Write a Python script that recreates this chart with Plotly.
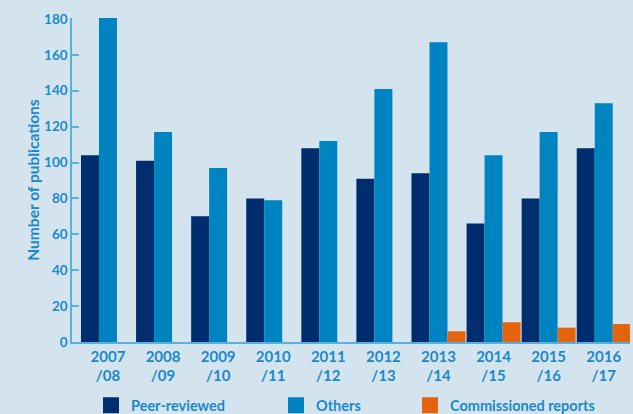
import plotly.graph_objects as go

years = ["2007<br>/08", "2008<br>/09", "2009<br>/10", "2010<br>/11", "2011<br>/12",
         "2012<br>/13", "2013<br>/14", "2014<br>/15", "2015<br>/16", "2016<br>/17"]
peer_reviewed = [104, 101, 70, 80, 108, 91, 94, 66, 80, 108]
others = [181, 117, 97, 79, 112, 141, 167, 104, 117, 133]
commissioned = [None, None, None, None, None, None, 6, 11, 8, 10]

names = ["Peer-reviewed", "Others", "Commissioned reports"]
colors = ["#002d6e", "#0083c1", "#e2640f"]
series = [peer_reviewed, others, commissioned]

BG = "#d4e4ef"
TXT = "#1b89c8"
AX = "#5aafdc"
FONT = "Lato"

fig = go.Figure()
for n, c, s in zip(names, colors, series):
    fig.add_trace(go.Bar(x=years, y=s, name=n, marker=dict(color=c, line=dict(width=0)),
                         showlegend=False))

legend_names = ["legend", "legend2", "legend3"]
lx = [(91 - 72) / 558, (276 - 72) / 558, (410 - 72) / 558]
for n, c, ln in zip(names, colors, legend_names):
    fig.add_trace(go.Scatter(x=[None], y=[None], mode="markers", name=n,
                             marker=dict(symbol="square", size=17, color=c),
                             legend=ln, showlegend=True))

leg_common = dict(orientation="h", yanchor="top", y=-0.146, xanchor="left",
                  bgcolor="rgba(0,0,0,0)", borderwidth=0,
                  font=dict(family=FONT, size=14.5, color=TXT, weight="bold"))
fig.update_layout(
    width=633, height=414,
    margin=dict(l=72, r=3, t=18, b=72, pad=0, autoexpand=False),
    paper_bgcolor=BG, plot_bgcolor=BG,
    barmode="group", bargap=0.02, bargroupgap=0,
    font=dict(family=FONT, color=TXT),
    legend=dict(x=lx[0], **leg_common),
    legend2=dict(x=lx[1], **leg_common),
    legend3=dict(x=lx[2], **leg_common),
)
fig.update_xaxes(
    range=[-0.653, 9.477], showgrid=False, zeroline=False, automargin=False,
    showline=True, linecolor=AX, linewidth=1.5, ticks="",
    tickfont=dict(family=FONT, size=15, color=TXT, weight="bold"),
)
fig.update_yaxes(
    range=[0, 180.5], tickvals=[0, 20, 40, 60, 80, 100, 120, 140, 160, 180],
    showgrid=False, zeroline=False, showline=True, linecolor=AX, linewidth=1.5,
    ticks="inside", ticklen=7, tickcolor=AX, tickwidth=1.5, automargin=False,
    tickfont=dict(family=FONT, size=13.5, color=TXT, weight="bold"),
    title=dict(text="Number of publications", standoff=1,
               font=dict(family=FONT, size=15.5, color=TXT, weight="bold")),
)

fig.write_html("out.html")
